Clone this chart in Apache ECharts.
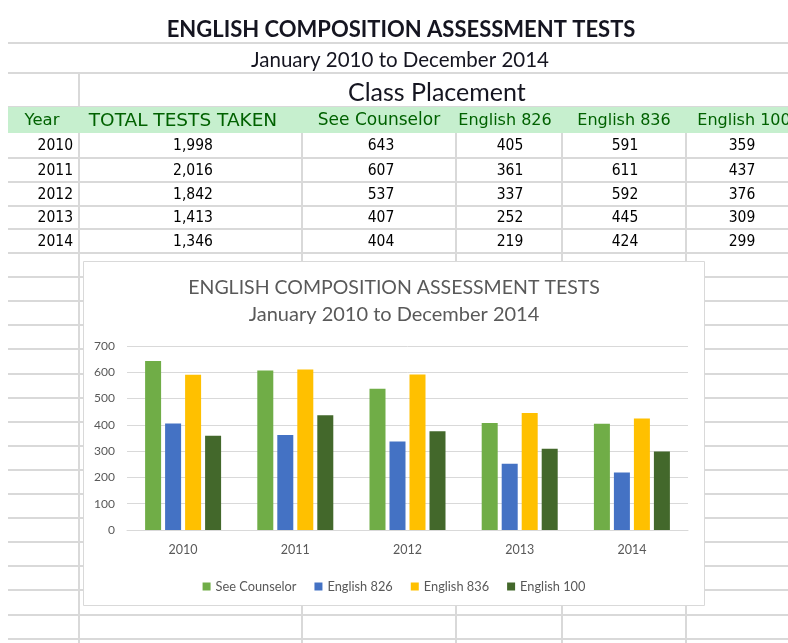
<!DOCTYPE html>
<html><head><meta charset="utf-8">
<script src="https://cdn.jsdelivr.net/npm/echarts@6/dist/echarts.min.js"></script>
<style>html,body{margin:0;padding:0;background:#fff}#c{width:788px;height:643px}</style>
</head><body><div id="c"></div>
<script>
// ---- data ----
const years = ['2010', '2011', '2012', '2013', '2014'];
const totalTests = [1998, 2016, 1842, 1413, 1346];
const seeCounselor = [643, 607, 537, 407, 404];
const english826 = [405, 361, 337, 252, 219];
const english836 = [591, 611, 592, 445, 424];
const english100 = [359, 437, 376, 309, 299];
const seriesNames = ['See Counselor', 'English 826', 'English 836', 'English 100'];
const tableHeaders = ['Year', 'TOTAL TESTS TAKEN', 'See Counselor', 'English 826', 'English 836', 'English 100'];
const yAxisMin = 0, yAxisMax = 700, yAxisStep = 100;
const sheetTitle = 'ENGLISH COMPOSITION ASSESSMENT TESTS';
const sheetSubtitle = 'January 2010 to December 2014';
const placementLabel = 'Class Placement';
const chartTitle = 'ENGLISH COMPOSITION ASSESSMENT TESTS';
const chartSubtitle = 'January 2010 to December 2014';

// ---- layout (spreadsheet look) ----
const GRID = '#d9d9d9';
const colText = [
  {x: 73, align: 'right'}, {x: 193, align: 'center'}, {x: 381, align: 'center'},
  {x: 510, align: 'center'}, {x: 625, align: 'center'}, {x: 742, align: 'center'}
];
const headX = [42, 183, 379, 505, 624, 744];
const headSize = [16.5, 18.5, 17, 16, 16, 16];
const headTop = 107, headBot = 133;
const dataLines = [158, 182, 206, 229, 253];
const g = [];
function hline(y, x1, x2) { g.push({type: 'line', z: -30, silent: true, shape: {x1: x1, y1: y, x2: x2, y2: y}, style: {stroke: GRID, lineWidth: 2}}); }
function vline(x, y1, y2) { g.push({type: 'line', z: -30, silent: true, shape: {x1: x, y1: y1, x2: x, y2: y2}, style: {stroke: GRID, lineWidth: 2}}); }
hline(43, 8, 788); hline(73, 8, 788); hline(headTop, 8, 788);
dataLines.forEach(y => hline(y, 8, 788));
for (let y = 253 + 24.1; y < 643; y += 24.1) hline(Math.round(y), 8, 788);
vline(79, 73, 643);
[302, 456, 562, 686].forEach(x => vline(x, headBot, 643));
g.push({type: 'rect', z: -25, silent: true, shape: {x: 8, y: headTop, width: 780, height: headBot - headTop}, style: {fill: '#c6efce'}});
// titles
g.push({type: 'text', z: -20, style: {text: sheetTitle, x: 401, y: 30, align: 'center', verticalAlign: 'middle', font: 'bold 22px Lato', fill: '#151520'}});
g.push({type: 'text', z: -20, style: {text: sheetSubtitle, x: 400, y: 60, align: 'center', verticalAlign: 'middle', font: '20.5px Lato', fill: '#151520'}});
g.push({type: 'text', z: -20, style: {text: placementLabel, x: 348, y: 93, align: 'left', verticalAlign: 'middle', font: '25px Lato', fill: '#151520'}});
// headers
tableHeaders.forEach((h, i) => {
  g.push({type: 'text', z: -20, style: {text: h, x: headX[i], y: 121, align: 'center', verticalAlign: 'middle', font: headSize[i] + 'px "DejaVu Sans"', fill: '#006100'}});
});
// rows
const cols = [years, totalTests.map(v => v.toLocaleString('en-US')), seeCounselor, english826, english836, english100];
const rowTops = [headBot].concat(dataLines.slice(0, 4));
years.forEach((yr, r) => {
  const cy = (rowTops[r] + dataLines[r]) / 2 + 0.5;
  cols.forEach((col, c) => {
    g.push({type: 'text', z: -20, style: {text: String(col[r]), x: colText[c].x, y: cy, align: colText[c].align, verticalAlign: 'middle', font: '15.5px "DejaVu Sans Condensed", "DejaVu Sans", sans-serif', fill: '#000'}});
  });
});
// chart box
g.push({type: 'rect', z: -10, silent: true, shape: {x: 83.5, y: 261.5, width: 621, height: 344}, style: {fill: '#fff', stroke: '#d9d9d9', lineWidth: 1}});

const colors = ['#70ad47', '#4472c4', '#ffc000', '#43682b'];
const seriesData = [seeCounselor, english826, english836, english100];
const chart = echarts.init(document.getElementById('c'), null, {renderer: 'canvas'});
chart.setOption({
  animation: false,
  color: colors,
  graphic: g,
  title: [
    {text: chartTitle, left: 'center', top: 273, textStyle: {fontFamily: 'Lato', fontWeight: 'normal', fontSize: 19.5, color: '#595959'}},
    {text: chartSubtitle, left: 'center', top: 300, textStyle: {fontFamily: 'Lato', fontWeight: 'normal', fontSize: 20, color: '#595959'}}
  ],
  legend: {
    data: seriesNames, top: 575, left: 'center', itemWidth: 8, itemHeight: 8, itemGap: 18, icon: 'rect',
    textStyle: {fontFamily: 'Lato', fontSize: 12.8, color: '#595959'}
  },
  grid: {left: 127, right: 100, top: 346, bottom: 113, containLabel: false},
  xAxis: {
    type: 'category', data: years,
    axisLine: {lineStyle: {color: '#d9d9d9'}}, axisTick: {show: false},
    axisLabel: {color: '#595959', fontFamily: 'Lato', fontSize: 12.5, margin: 13}
  },
  yAxis: {
    type: 'value', min: yAxisMin, max: yAxisMax, interval: yAxisStep,
    axisLine: {show: false}, axisTick: {show: false},
    splitLine: {lineStyle: {color: '#d9d9d9'}},
    axisLabel: {color: '#595959', fontFamily: 'Lato', fontSize: 12, margin: 12}
  },
  series: seriesNames.map((n, i) => ({
    name: n, type: 'bar', data: seriesData[i], barWidth: 16, barGap: '25%'
  }))
});
</script></body></html>
